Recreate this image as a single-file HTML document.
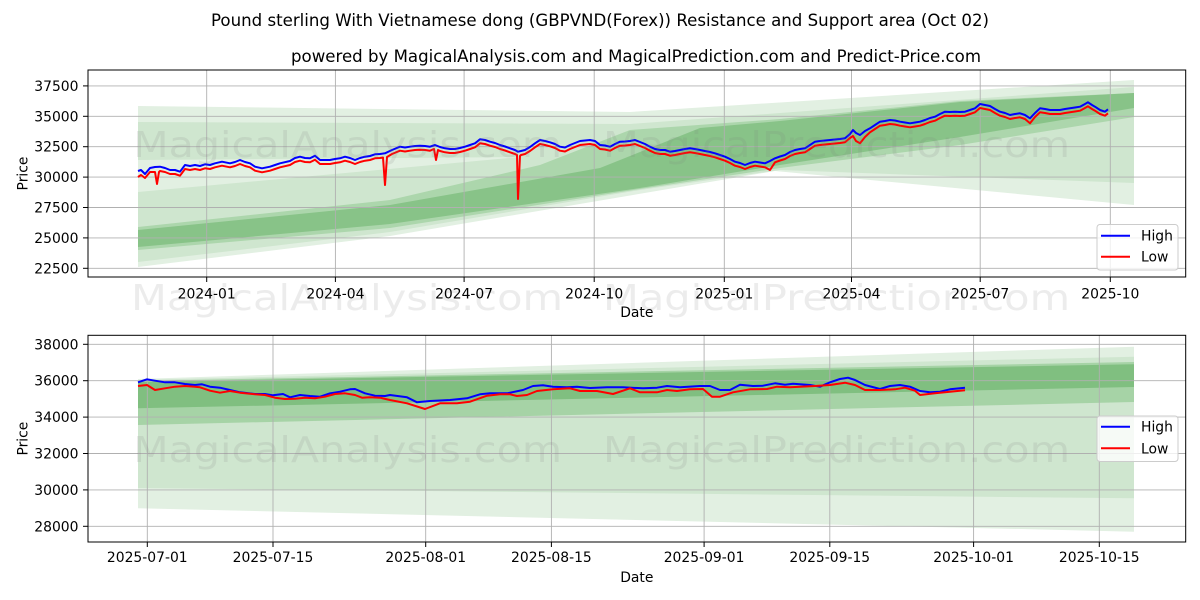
<!DOCTYPE html>
<html><head><meta charset="utf-8"><style>
html,body{margin:0;padding:0;background:#fff;}
svg{display:block;font-family:"DejaVu Sans","Liberation Sans",sans-serif;}
</style></head><body>
<svg width="1200" height="600" viewBox="0 0 1200 600" xmlns="http://www.w3.org/2000/svg">
<rect width="1200" height="600" fill="#fff"/>
<!-- Titles -->
<text x="211" y="26" font-size="16.5" textLength="778" lengthAdjust="spacingAndGlyphs" fill="#000">Pound sterling With Vietnamese dong (GBPVND(Forex)) Resistance and Support area (Oct 02)</text>
<text x="291" y="62" font-size="16.5" textLength="690" lengthAdjust="spacingAndGlyphs" fill="#000">powered by MagicalAnalysis.com and MagicalPrediction.com and Predict-Price.com</text>

<!-- ===== TOP CHART ===== -->
<g>
<polygon points="138,106 630,112 1134,80 1134,205 775,171 390,236 138,267" fill="#e2f0e2"/>
<polygon points="138,122 630,124 780,113 1134,87 1134,183 780,170 640,190 390,232 138,262" fill="#cfe6cf"/>
<polygon points="138,160 138,192 520,157" fill="#e2f0e2"/>
<polygon points="138,227 390,200 540,165 630,130 780,119 960,101 1134,93 1134,117 960,145 780,168 640,189 390,228 138,250" fill="#acd6ac"/>
<polygon points="138,230 390,205 600,168 700,128 780,121 960,102 1134,93 1134,108 960,137 780,165 640,188 390,224 138,247" fill="#88c388"/>
</g>
<!-- grid top -->
<g stroke="#b0b0b0" stroke-width="0.9">
<line x1="88" y1="268.3" x2="1185.7" y2="268.3"/>
<line x1="88" y1="237.9" x2="1185.7" y2="237.9"/>
<line x1="88" y1="207.5" x2="1185.7" y2="207.5"/>
<line x1="88" y1="177.1" x2="1185.7" y2="177.1"/>
<line x1="88" y1="146.7" x2="1185.7" y2="146.7"/>
<line x1="88" y1="116.3" x2="1185.7" y2="116.3"/>
<line x1="88" y1="85.9" x2="1185.7" y2="85.9"/>
<line x1="206.7" y1="70" x2="206.7" y2="277"/>
<line x1="335.4" y1="70" x2="335.4" y2="277"/>
<line x1="464.1" y1="70" x2="464.1" y2="277"/>
<line x1="594.2" y1="70" x2="594.2" y2="277"/>
<line x1="724.3" y1="70" x2="724.3" y2="277"/>
<line x1="851.5" y1="70" x2="851.5" y2="277"/>
<line x1="980.2" y1="70" x2="980.2" y2="277"/>
<line x1="1110.3" y1="70" x2="1110.3" y2="277"/>
</g>
<!-- price lines top -->
<polyline fill="none" stroke="#0000ff" stroke-width="2" stroke-linejoin="round" points="138,171 141,170 145,174 150,168 155,167 160,166.7 165,168 170,170 175,170 180,171.7 185,165 190,166 195,165 200,166 205,164.3 210,165 215,163.3 222,161.7 230,163.3 235,162 240,160 245,162 250,163.3 255,166.7 262,168.3 270,166.7 275,165 280,163.3 290,161 295,158 300,156.7 305,158 310,158.3 315,155.7 320,160 325,160 330,160 335,159 340,158.3 345,156.7 350,158 355,160 360,158 365,156.7 370,156 375,154.3 380,154 385,153.3 392,150 400,146.7 405,147.5 410,146.7 415,146 420,145.7 425,146 430,146.7 435,145 440,147 445,148.3 450,149 455,149 460,148 465,146.7 470,145 475,143.3 480,139.3 485,140 490,141.7 495,143 500,145 505,146.5 510,148.3 515,150 518,151.7 521,151 525,150 530,147 535,143.3 540,140 545,141 550,142.3 555,144 560,146.7 565,147.5 570,145 575,143 580,141 585,140.5 590,140 595,141 600,145 605,145.5 610,146.7 615,144 620,141.7 625,141.5 630,141 635,140 640,142 645,144 650,146.7 655,149 660,150 665,150 670,151.7 675,151 680,150 685,149 690,148.3 695,149 700,150 705,151 710,152 715,153.3 720,155 725,156.7 730,159 735,161.7 740,163 745,165 750,163 755,161.7 760,162.5 765,163.3 770,161 775,158.3 780,156.5 785,155 790,152 795,150 800,149 805,148.3 810,145 815,141.7 820,141 825,140.5 830,140 835,139.5 840,139 845,138.3 850,134 853,130 856,133 860,135 865,131 870,128.3 875,125 880,121.7 885,121 890,120 895,120.5 900,121.7 905,122.5 910,123.3 915,122.5 920,121.7 925,120 930,118 935,116.7 940,114 945,111.7 950,112 955,111.7 960,112 965,111.7 970,110 975,108.3 980,104 985,105 990,106 995,109 1000,111.7 1005,113 1010,115 1015,114 1020,113.3 1025,115 1030,118.3 1035,113 1040,108.3 1045,109 1050,110 1055,110 1060,110 1065,109 1070,108.3 1075,107.5 1080,106.7 1085,104 1088,102.3 1092,105 1095,106.7 1100,110 1105,111.7 1108,109.3"/>
<polyline fill="none" stroke="#ff0000" stroke-width="2" stroke-linejoin="round" points="138,177 141,175 145,178 150,172 155,172 157,184 159,172 160,171 165,172 170,174 175,174 180,175.7 185,169 190,170 195,169 200,170 205,168.3 210,169 215,167.3 222,165.7 230,167.3 235,166 240,164 245,166 250,167.3 255,170.7 262,172.3 270,170.7 275,169 280,167.3 290,165 295,162 300,160.7 305,162 310,162.3 315,159.7 320,164 325,164 330,164 335,163 340,162.3 345,160.7 350,162 355,164 360,162 365,160.7 370,160 375,158.3 380,158 383,157.5 385,185 387,157 392,154 400,150.7 405,151.5 410,150.7 415,150 420,149.7 425,150 430,150.7 434,149 436,160 438,150 440,151 445,152.3 450,153 455,153 460,152 465,150.7 470,149 475,147.3 480,143.3 485,144 490,145.7 495,147 500,149 505,150.5 510,152.3 515,154 517,155 518,199 520,156 521,155 525,154 530,151 535,147.3 540,144 545,145 550,146.3 555,148 560,150.7 565,151.5 570,149 575,147 580,145 585,144.5 590,144 595,145 600,149 605,149.5 610,150.7 615,148 620,145.7 625,145.5 630,145 635,144 640,146 645,148 650,150.7 655,153 660,154 665,154 670,155.7 675,155 680,154 685,153 690,152.3 695,153 700,154 705,155 710,156 715,157.3 720,159 725,160.7 730,163 735,165.7 740,167 745,169 750,167 755,165.7 760,166.5 765,167.3 770,170 775,162.3 780,160.5 785,159 790,156 795,154 800,153 805,152.3 810,149 815,145.7 820,145 825,144.5 830,144 835,143.5 840,143 845,142.3 850,138 853,136 856,141 860,143.3 865,137 870,132.3 875,129 880,125.7 885,125 890,124 895,124.5 900,125.7 905,126.5 910,127.3 915,126.5 920,125.7 925,124 930,122 935,120.7 940,118 945,115.7 950,116 955,115.7 960,116 965,115.7 970,114 975,112.3 980,108 985,109 990,110 995,113 1000,115.7 1005,117 1010,119 1015,118 1020,117.3 1025,119 1030,123.3 1035,117 1040,112.3 1045,113 1050,114 1055,114 1060,114 1065,113 1070,112.3 1075,111.5 1080,110.7 1085,108 1088,106.3 1092,109 1095,110.7 1100,114 1105,115.7 1108,113.3"/>

<!-- ===== BOTTOM CHART ===== -->
<g>
<polygon points="138,379 1134,346.7 1134,531.7 138,508.3" fill="#e2f0e2"/>
<polygon points="138,380 1134,356.7 1134,498.3 138,488" fill="#cfe6cf"/>
<polygon points="138,381 1134,362 1134,402 138,425" fill="#a6d3a6"/>
<polygon points="138,382 1134,364.3 1134,387 138,408.3" fill="#80bf80"/>
</g>
<g stroke="#b0b0b0" stroke-width="0.9">
<line x1="88" y1="526.3" x2="1185.7" y2="526.3"/>
<line x1="88" y1="489.9" x2="1185.7" y2="489.9"/>
<line x1="88" y1="453.5" x2="1185.7" y2="453.5"/>
<line x1="88" y1="417.1" x2="1185.7" y2="417.1"/>
<line x1="88" y1="380.7" x2="1185.7" y2="380.7"/>
<line x1="88" y1="344.3" x2="1185.7" y2="344.3"/>
<line x1="147.3" y1="335.3" x2="147.3" y2="542"/>
<line x1="273" y1="335.3" x2="273" y2="542"/>
<line x1="425.7" y1="335.3" x2="425.7" y2="542"/>
<line x1="551.4" y1="335.3" x2="551.4" y2="542"/>
<line x1="704.1" y1="335.3" x2="704.1" y2="542"/>
<line x1="829.8" y1="335.3" x2="829.8" y2="542"/>
<line x1="973.6" y1="335.3" x2="973.6" y2="542"/>
<line x1="1099.3" y1="335.3" x2="1099.3" y2="542"/>
</g>
<polyline fill="none" stroke="#0000ff" stroke-width="2" stroke-linejoin="round" points="138,382.3 147,379.3 155,380.7 165,382.3 175,382.3 185,384 195,385 202,384.3 210,386.7 220,387.7 230,390 240,392.3 255,394 265,394 273,395.3 283,394 290,397.3 300,395 310,396 320,396.7 330,393.3 340,391.7 350,389.3 355,389 365,393.3 375,395.7 385,396 390,395 407,397.3 417,402.3 430,401 450,400 467,398.3 480,394.3 490,393.3 507,393.3 523,390 533,386 543,385.3 553,386.7 567,387.3 577,386.7 590,388 607,387.3 623,387.3 643,388.3 657,387.7 667,386 680,387.3 700,386 710,386 720,390 730,390 740,384.7 753,386 763,385.7 775,383.3 785,384.7 793,383.7 800,384.3 810,385 820,386.7 830,382.3 840,379 848,377.7 855,380 865,385 880,389 890,386 900,385 910,386.7 920,391 930,392.3 940,391.7 950,389.3 965,387.7"/>
<polyline fill="none" stroke="#ff0000" stroke-width="2" stroke-linejoin="round" points="138,386 147,385 155,390 165,388.3 175,386.7 185,386 195,386.7 200,387.3 210,390.7 220,392.7 230,391 240,392.7 255,394.3 265,395 275,397.7 285,399 295,398.7 305,397.7 315,398.3 325,396.7 335,394 345,393.3 355,395 362,397.7 370,397.3 380,397.7 390,400 407,403.3 425,409 440,403.3 457,403.3 470,401.7 487,395.7 500,394.3 510,394.3 517,396 527,395 537,391 553,389.3 570,388.3 580,391 597,391 613,394 630,388.3 640,392.3 657,392.3 667,390 677,391 690,389.3 703,389 712,396.7 720,396.7 733,392.3 750,389.3 767,389 777,386.7 790,387.3 800,386.7 815,386 830,385 845,382.7 855,385 865,390 880,390 895,389.3 905,387.7 915,390.7 920,395 935,393.3 950,391.7 965,390.3"/>

<!-- watermarks -->
<g font-size="36" fill="#808080" fill-opacity="0.15">
<text x="133" y="157" textLength="429" lengthAdjust="spacingAndGlyphs">MagicalAnalysis.com</text>
<text x="603" y="157" textLength="467" lengthAdjust="spacingAndGlyphs">MagicalPrediction.com</text>
<text x="131" y="310" textLength="432" lengthAdjust="spacingAndGlyphs">MagicalAnalysis.com</text>
<text x="603" y="310" textLength="467" lengthAdjust="spacingAndGlyphs">MagicalPrediction.com</text>
<text x="133" y="462" textLength="429" lengthAdjust="spacingAndGlyphs">MagicalAnalysis.com</text>
<text x="603" y="462" textLength="467" lengthAdjust="spacingAndGlyphs">MagicalPrediction.com</text>
</g>

<!-- axes frames -->
<rect x="88" y="70" width="1097.7" height="207" fill="none" stroke="#000" stroke-width="1"/>
<rect x="88" y="335.3" width="1097.7" height="206.7" fill="none" stroke="#000" stroke-width="1"/>

<!-- ticks -->
<g stroke="#000" stroke-width="1">
<line x1="83" y1="268.3" x2="88" y2="268.3"/><line x1="83" y1="237.9" x2="88" y2="237.9"/><line x1="83" y1="207.5" x2="88" y2="207.5"/><line x1="83" y1="177.1" x2="88" y2="177.1"/><line x1="83" y1="146.7" x2="88" y2="146.7"/><line x1="83" y1="116.3" x2="88" y2="116.3"/><line x1="83" y1="85.9" x2="88" y2="85.9"/>
<line x1="206.7" y1="277" x2="206.7" y2="282"/><line x1="335.4" y1="277" x2="335.4" y2="282"/><line x1="464.1" y1="277" x2="464.1" y2="282"/><line x1="594.2" y1="277" x2="594.2" y2="282"/><line x1="724.3" y1="277" x2="724.3" y2="282"/><line x1="851.5" y1="277" x2="851.5" y2="282"/><line x1="980.2" y1="277" x2="980.2" y2="282"/><line x1="1110.3" y1="277" x2="1110.3" y2="282"/>
<line x1="83" y1="526.3" x2="88" y2="526.3"/><line x1="83" y1="489.9" x2="88" y2="489.9"/><line x1="83" y1="453.5" x2="88" y2="453.5"/><line x1="83" y1="417.1" x2="88" y2="417.1"/><line x1="83" y1="380.7" x2="88" y2="380.7"/><line x1="83" y1="344.3" x2="88" y2="344.3"/>
<line x1="147.3" y1="542" x2="147.3" y2="547"/><line x1="273" y1="542" x2="273" y2="547"/><line x1="425.7" y1="542" x2="425.7" y2="547"/><line x1="551.4" y1="542" x2="551.4" y2="547"/><line x1="704.1" y1="542" x2="704.1" y2="547"/><line x1="829.8" y1="542" x2="829.8" y2="547"/><line x1="973.6" y1="542" x2="973.6" y2="547"/><line x1="1099.3" y1="542" x2="1099.3" y2="547"/>
</g>

<!-- tick labels -->
<g font-size="13.9" fill="#000" text-anchor="end">
<text x="78.5" y="273.3">22500</text><text x="78.5" y="242.9">25000</text><text x="78.5" y="212.5">27500</text><text x="78.5" y="182.1">30000</text><text x="78.5" y="151.7">32500</text><text x="78.5" y="121.3">35000</text><text x="78.5" y="90.9">37500</text>
<text x="78.5" y="531.3">28000</text><text x="78.5" y="494.9">30000</text><text x="78.5" y="458.5">32000</text><text x="78.5" y="422.1">34000</text><text x="78.5" y="385.7">36000</text><text x="78.5" y="349.3">38000</text>
</g>
<g font-size="13.9" fill="#000" text-anchor="middle">
<text x="206.7" y="298.5">2024-01</text><text x="335.4" y="298.5">2024-04</text><text x="464.1" y="298.5">2024-07</text><text x="594.2" y="298.5">2024-10</text><text x="724.3" y="298.5">2025-01</text><text x="851.5" y="298.5">2025-04</text><text x="980.2" y="298.5">2025-07</text><text x="1110.3" y="298.5">2025-10</text>
<text x="147.3" y="562">2025-07-01</text><text x="273" y="562">2025-07-15</text><text x="425.7" y="562">2025-08-01</text><text x="551.4" y="562">2025-08-15</text><text x="704.1" y="562">2025-09-01</text><text x="829.8" y="562">2025-09-15</text><text x="973.6" y="562">2025-10-01</text><text x="1099.3" y="562">2025-10-15</text>
<text x="636.8" y="317">Date</text>
<text x="636.8" y="582">Date</text>
<text transform="translate(27.5,173.5) rotate(-90)">Price</text>
<text transform="translate(27.5,438.6) rotate(-90)">Price</text>
</g>

<!-- legends -->
<g>
<rect x="1097" y="224.5" width="81" height="45.5" rx="3" fill="#fff" fill-opacity="0.8" stroke="#cccccc" stroke-width="1"/>
<line x1="1101" y1="235.7" x2="1130" y2="235.7" stroke="#0000ff" stroke-width="2"/>
<line x1="1101" y1="256.7" x2="1130" y2="256.7" stroke="#ff0000" stroke-width="2"/>
<text x="1141" y="240.7" font-size="13.9" fill="#000">High</text>
<text x="1141" y="261.7" font-size="13.9" fill="#000">Low</text>
<rect x="1097" y="416" width="81" height="45.5" rx="3" fill="#fff" fill-opacity="0.8" stroke="#cccccc" stroke-width="1"/>
<line x1="1101" y1="426.7" x2="1130" y2="426.7" stroke="#0000ff" stroke-width="2"/>
<line x1="1101" y1="448.3" x2="1130" y2="448.3" stroke="#ff0000" stroke-width="2"/>
<text x="1141" y="431.7" font-size="13.9" fill="#000">High</text>
<text x="1141" y="453.3" font-size="13.9" fill="#000">Low</text>
</g>
</svg>
</body></html>
